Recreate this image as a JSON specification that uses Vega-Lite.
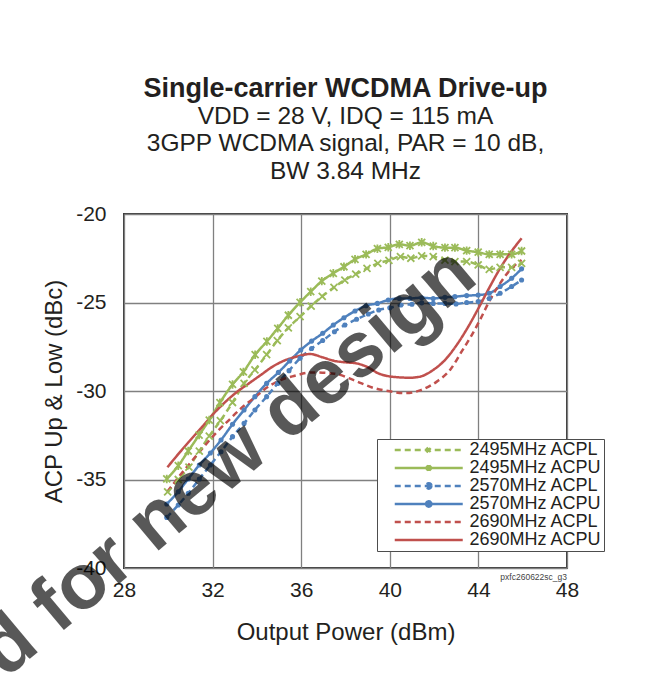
{
  "$schema": "https://vega.github.io/schema/vega-lite/v6.json",
  "width": 443,
  "height": 354,
  "autosize": {"type": "none"},
  "padding": {"left": 124, "top": 214, "right": 97, "bottom": 107},
  "background": "white",
  "title": {
    "text": "Single-carrier WCDMA Drive-up",
    "subtitle": ["VDD = 28 V, IDQ = 115 mA", "3GPP WCDMA signal, PAR = 10 dB,", "BW 3.84 MHz"],
    "anchor": "middle",
    "offset": 19,
    "font": "Liberation Sans",
    "fontSize": 27,
    "fontWeight": "bold",
    "color": "#231F20",
    "subtitleFont": "Liberation Sans",
    "subtitleFontSize": 24.5,
    "subtitleColor": "#231F20",
    "subtitleLineHeight": 27.5,
    "subtitlePadding": 2
  },
  "datasets": {
    "acp": [
      {"s": "2495MHz ACPL", "p": 29.97, "v": -35.7},
      {"s": "2495MHz ACPL", "p": 30.45, "v": -35.0},
      {"s": "2495MHz ACPL", "p": 30.93, "v": -34.3},
      {"s": "2495MHz ACPL", "p": 31.4, "v": -33.4},
      {"s": "2495MHz ACPL", "p": 31.85, "v": -32.55},
      {"s": "2495MHz ACPL", "p": 32.35, "v": -31.68},
      {"s": "2495MHz ACPL", "p": 32.9, "v": -30.65},
      {"s": "2495MHz ACPL", "p": 33.42, "v": -29.57},
      {"s": "2495MHz ACPL", "p": 33.91, "v": -28.81},
      {"s": "2495MHz ACPL", "p": 34.44, "v": -27.95},
      {"s": "2495MHz ACPL", "p": 34.92, "v": -27.15},
      {"s": "2495MHz ACPL", "p": 35.42, "v": -26.43},
      {"s": "2495MHz ACPL", "p": 35.95, "v": -25.8},
      {"s": "2495MHz ACPL", "p": 36.45, "v": -25.2},
      {"s": "2495MHz ACPL", "p": 36.95, "v": -24.65},
      {"s": "2495MHz ACPL", "p": 37.48, "v": -24.15},
      {"s": "2495MHz ACPL", "p": 37.97, "v": -23.73},
      {"s": "2495MHz ACPL", "p": 38.46, "v": -23.4},
      {"s": "2495MHz ACPL", "p": 38.97, "v": -23.07},
      {"s": "2495MHz ACPL", "p": 39.46, "v": -22.79},
      {"s": "2495MHz ACPL", "p": 39.96, "v": -22.62},
      {"s": "2495MHz ACPL", "p": 40.48, "v": -22.41},
      {"s": "2495MHz ACPL", "p": 40.95, "v": -22.5},
      {"s": "2495MHz ACPL", "p": 41.44, "v": -22.37},
      {"s": "2495MHz ACPL", "p": 41.96, "v": -22.41},
      {"s": "2495MHz ACPL", "p": 42.49, "v": -22.6},
      {"s": "2495MHz ACPL", "p": 42.94, "v": -22.69},
      {"s": "2495MHz ACPL", "p": 43.47, "v": -22.69},
      {"s": "2495MHz ACPL", "p": 43.99, "v": -22.88},
      {"s": "2495MHz ACPL", "p": 44.49, "v": -23.13},
      {"s": "2495MHz ACPL", "p": 44.98, "v": -23.01},
      {"s": "2495MHz ACPL", "p": 45.5, "v": -23.01},
      {"s": "2495MHz ACPL", "p": 45.95, "v": -22.79},

      {"s": "2495MHz ACPU", "p": 29.93, "v": -34.97},
      {"s": "2495MHz ACPU", "p": 30.45, "v": -34.22},
      {"s": "2495MHz ACPU", "p": 30.9, "v": -33.39},
      {"s": "2495MHz ACPU", "p": 31.39, "v": -32.49},
      {"s": "2495MHz ACPU", "p": 31.85, "v": -31.64},
      {"s": "2495MHz ACPU", "p": 32.33, "v": -30.66},
      {"s": "2495MHz ACPU", "p": 32.9, "v": -29.63},
      {"s": "2495MHz ACPU", "p": 33.39, "v": -28.92},
      {"s": "2495MHz ACPU", "p": 33.92, "v": -27.95},
      {"s": "2495MHz ACPU", "p": 34.45, "v": -27.2},
      {"s": "2495MHz ACPU", "p": 34.94, "v": -26.46},
      {"s": "2495MHz ACPU", "p": 35.42, "v": -25.72},
      {"s": "2495MHz ACPU", "p": 35.95, "v": -24.99},
      {"s": "2495MHz ACPU", "p": 36.43, "v": -24.39},
      {"s": "2495MHz ACPU", "p": 36.93, "v": -23.79},
      {"s": "2495MHz ACPU", "p": 37.45, "v": -23.35},
      {"s": "2495MHz ACPU", "p": 37.93, "v": -22.98},
      {"s": "2495MHz ACPU", "p": 38.43, "v": -22.56},
      {"s": "2495MHz ACPU", "p": 38.93, "v": -22.28},
      {"s": "2495MHz ACPU", "p": 39.44, "v": -21.96},
      {"s": "2495MHz ACPU", "p": 39.93, "v": -21.88},
      {"s": "2495MHz ACPU", "p": 40.43, "v": -21.71},
      {"s": "2495MHz ACPU", "p": 40.91, "v": -21.79},
      {"s": "2495MHz ACPU", "p": 41.44, "v": -21.6},
      {"s": "2495MHz ACPU", "p": 41.96, "v": -21.81},
      {"s": "2495MHz ACPU", "p": 42.49, "v": -21.9},
      {"s": "2495MHz ACPU", "p": 42.94, "v": -21.9},
      {"s": "2495MHz ACPU", "p": 43.47, "v": -22.07},
      {"s": "2495MHz ACPU", "p": 43.99, "v": -22.16},
      {"s": "2495MHz ACPU", "p": 44.49, "v": -22.28},
      {"s": "2495MHz ACPU", "p": 44.98, "v": -22.28},
      {"s": "2495MHz ACPU", "p": 45.5, "v": -22.28},
      {"s": "2495MHz ACPU", "p": 45.95, "v": -22.09},

      {"s": "2570MHz ACPL", "p": 29.93, "v": -37.14},
      {"s": "2570MHz ACPL", "p": 30.45, "v": -36.44},
      {"s": "2570MHz ACPL", "p": 30.9, "v": -35.78},
      {"s": "2570MHz ACPL", "p": 31.4, "v": -34.97},
      {"s": "2570MHz ACPL", "p": 31.9, "v": -34.18},
      {"s": "2570MHz ACPL", "p": 32.38, "v": -33.43},
      {"s": "2570MHz ACPL", "p": 32.9, "v": -32.58},
      {"s": "2570MHz ACPL", "p": 33.42, "v": -31.83},
      {"s": "2570MHz ACPL", "p": 33.91, "v": -31.07},
      {"s": "2570MHz ACPL", "p": 34.44, "v": -30.32},
      {"s": "2570MHz ACPL", "p": 34.94, "v": -29.57},
      {"s": "2570MHz ACPL", "p": 35.45, "v": -28.85},
      {"s": "2570MHz ACPL", "p": 35.95, "v": -28.15},
      {"s": "2570MHz ACPL", "p": 36.47, "v": -27.6},
      {"s": "2570MHz ACPL", "p": 36.97, "v": -27.15},
      {"s": "2570MHz ACPL", "p": 37.5, "v": -26.65},
      {"s": "2570MHz ACPL", "p": 37.97, "v": -26.27},
      {"s": "2570MHz ACPL", "p": 38.5, "v": -25.95},
      {"s": "2570MHz ACPL", "p": 39.03, "v": -25.65},
      {"s": "2570MHz ACPL", "p": 39.5, "v": -25.42},
      {"s": "2570MHz ACPL", "p": 40.0, "v": -25.3},
      {"s": "2570MHz ACPL", "p": 40.5, "v": -25.14},
      {"s": "2570MHz ACPL", "p": 41.0, "v": -25.1},
      {"s": "2570MHz ACPL", "p": 41.44, "v": -25.02},
      {"s": "2570MHz ACPL", "p": 41.96, "v": -25.05},
      {"s": "2570MHz ACPL", "p": 42.49, "v": -25.05},
      {"s": "2570MHz ACPL", "p": 42.99, "v": -25.08},
      {"s": "2570MHz ACPL", "p": 43.47, "v": -25.0},
      {"s": "2570MHz ACPL", "p": 43.99, "v": -24.95},
      {"s": "2570MHz ACPL", "p": 44.49, "v": -24.77},
      {"s": "2570MHz ACPL", "p": 44.98, "v": -24.48},
      {"s": "2570MHz ACPL", "p": 45.5, "v": -24.1},
      {"s": "2570MHz ACPL", "p": 45.95, "v": -23.73},

      {"s": "2570MHz ACPU", "p": 29.93, "v": -36.38},
      {"s": "2570MHz ACPU", "p": 30.45, "v": -35.69},
      {"s": "2570MHz ACPU", "p": 30.9, "v": -34.97},
      {"s": "2570MHz ACPU", "p": 31.4, "v": -34.18},
      {"s": "2570MHz ACPU", "p": 31.9, "v": -33.5},
      {"s": "2570MHz ACPU", "p": 32.38, "v": -32.77},
      {"s": "2570MHz ACPU", "p": 32.9, "v": -31.88},
      {"s": "2570MHz ACPU", "p": 33.42, "v": -31.07},
      {"s": "2570MHz ACPU", "p": 33.91, "v": -30.32},
      {"s": "2570MHz ACPU", "p": 34.44, "v": -29.57},
      {"s": "2570MHz ACPU", "p": 34.97, "v": -28.95},
      {"s": "2570MHz ACPU", "p": 35.48, "v": -28.3},
      {"s": "2570MHz ACPU", "p": 35.98, "v": -27.68},
      {"s": "2570MHz ACPU", "p": 36.47, "v": -27.18},
      {"s": "2570MHz ACPU", "p": 36.97, "v": -26.74},
      {"s": "2570MHz ACPU", "p": 37.45, "v": -26.27},
      {"s": "2570MHz ACPU", "p": 37.93, "v": -25.86},
      {"s": "2570MHz ACPU", "p": 38.43, "v": -25.48},
      {"s": "2570MHz ACPU", "p": 38.93, "v": -25.18},
      {"s": "2570MHz ACPU", "p": 39.44, "v": -25.05},
      {"s": "2570MHz ACPU", "p": 39.93, "v": -24.86},
      {"s": "2570MHz ACPU", "p": 40.43, "v": -24.77},
      {"s": "2570MHz ACPU", "p": 40.91, "v": -24.77},
      {"s": "2570MHz ACPU", "p": 41.44, "v": -24.73},
      {"s": "2570MHz ACPU", "p": 41.96, "v": -24.77},
      {"s": "2570MHz ACPU", "p": 42.49, "v": -24.71},
      {"s": "2570MHz ACPU", "p": 42.94, "v": -24.67},
      {"s": "2570MHz ACPU", "p": 43.47, "v": -24.61},
      {"s": "2570MHz ACPU", "p": 43.99, "v": -24.58},
      {"s": "2570MHz ACPU", "p": 44.49, "v": -24.48},
      {"s": "2570MHz ACPU", "p": 44.98, "v": -24.1},
      {"s": "2570MHz ACPU", "p": 45.5, "v": -23.63},
      {"s": "2570MHz ACPU", "p": 45.95, "v": -23.1},

      {"s": "2690MHz ACPL", "p": 29.96, "v": -35.69},
      {"s": "2690MHz ACPL", "p": 30.48, "v": -34.84},
      {"s": "2690MHz ACPL", "p": 31.0, "v": -34.05},
      {"s": "2690MHz ACPL", "p": 31.61, "v": -33.14},
      {"s": "2690MHz ACPL", "p": 32.14, "v": -32.39},
      {"s": "2690MHz ACPL", "p": 32.74, "v": -31.64},
      {"s": "2690MHz ACPL", "p": 33.34, "v": -30.92},
      {"s": "2690MHz ACPL", "p": 33.95, "v": -30.32},
      {"s": "2690MHz ACPL", "p": 34.47, "v": -29.79},
      {"s": "2690MHz ACPL", "p": 35.07, "v": -29.38},
      {"s": "2690MHz ACPL", "p": 35.67, "v": -29.15},
      {"s": "2690MHz ACPL", "p": 36.5, "v": -28.95},
      {"s": "2690MHz ACPL", "p": 37.5, "v": -29.02},
      {"s": "2690MHz ACPL", "p": 38.4, "v": -29.4},
      {"s": "2690MHz ACPL", "p": 39.2, "v": -29.8},
      {"s": "2690MHz ACPL", "p": 40.0, "v": -30.02},
      {"s": "2690MHz ACPL", "p": 40.7, "v": -30.12},
      {"s": "2690MHz ACPL", "p": 41.4, "v": -29.95},
      {"s": "2690MHz ACPL", "p": 42.12, "v": -29.47},
      {"s": "2690MHz ACPL", "p": 42.72, "v": -28.81},
      {"s": "2690MHz ACPL", "p": 43.24, "v": -27.78},
      {"s": "2690MHz ACPL", "p": 43.7, "v": -26.84},
      {"s": "2690MHz ACPL", "p": 44.07, "v": -25.99},
      {"s": "2690MHz ACPL", "p": 44.52, "v": -24.86},
      {"s": "2690MHz ACPL", "p": 44.98, "v": -23.92},
      {"s": "2690MHz ACPL", "p": 45.43, "v": -23.16},
      {"s": "2690MHz ACPL", "p": 45.95, "v": -22.6},

      {"s": "2690MHz ACPU", "p": 29.96, "v": -34.31},
      {"s": "2690MHz ACPU", "p": 30.48, "v": -33.52},
      {"s": "2690MHz ACPU", "p": 31.0, "v": -32.77},
      {"s": "2690MHz ACPU", "p": 31.53, "v": -32.02},
      {"s": "2690MHz ACPU", "p": 32.06, "v": -31.26},
      {"s": "2690MHz ACPU", "p": 32.59, "v": -30.6},
      {"s": "2690MHz ACPU", "p": 33.11, "v": -30.04},
      {"s": "2690MHz ACPU", "p": 33.64, "v": -29.57},
      {"s": "2690MHz ACPU", "p": 34.17, "v": -29.1},
      {"s": "2690MHz ACPU", "p": 34.7, "v": -28.63},
      {"s": "2690MHz ACPU", "p": 35.22, "v": -28.29},
      {"s": "2690MHz ACPU", "p": 35.82, "v": -28.05},
      {"s": "2690MHz ACPU", "p": 36.4, "v": -27.91},
      {"s": "2690MHz ACPU", "p": 36.97, "v": -28.1},
      {"s": "2690MHz ACPU", "p": 37.5, "v": -28.3},
      {"s": "2690MHz ACPU", "p": 38.0, "v": -28.38},
      {"s": "2690MHz ACPU", "p": 38.5, "v": -28.44},
      {"s": "2690MHz ACPU", "p": 38.96, "v": -28.63},
      {"s": "2690MHz ACPU", "p": 39.48, "v": -29.0},
      {"s": "2690MHz ACPU", "p": 40.08, "v": -29.19},
      {"s": "2690MHz ACPU", "p": 40.91, "v": -29.25},
      {"s": "2690MHz ACPU", "p": 41.36, "v": -29.19},
      {"s": "2690MHz ACPU", "p": 41.96, "v": -28.81},
      {"s": "2690MHz ACPU", "p": 42.49, "v": -28.25},
      {"s": "2690MHz ACPU", "p": 43.02, "v": -27.4},
      {"s": "2690MHz ACPU", "p": 43.54, "v": -26.37},
      {"s": "2690MHz ACPU", "p": 44.0, "v": -25.33},
      {"s": "2690MHz ACPU", "p": 44.52, "v": -24.1},
      {"s": "2690MHz ACPU", "p": 44.98, "v": -23.07},
      {"s": "2690MHz ACPU", "p": 45.43, "v": -22.22},
      {"s": "2690MHz ACPU", "p": 45.95, "v": -21.37}
    ],
    "watermark": [
      {"label": "Not recommended for new design", "p": 44.07, "v": -23.79}
    ],
    "figid": [
      {"label": "pxfc260622sc_g3", "p": 48, "v": -40}
    ]
  },
  "data": {"name": "acp"},
  "encoding": {
    "x": {
      "field": "p", "type": "quantitative",
      "scale": {"domain": [28, 48], "nice": false, "zero": false},
      "axis": {"values": [28, 32, 36, 40, 44, 48], "title": "Output Power (dBm)", "titlePadding": 20, "labelPadding": 11}
    },
    "y": {
      "field": "v", "type": "quantitative",
      "scale": {"domain": [-40, -20], "nice": false, "zero": false},
      "axis": {"values": [-40, -35, -30, -25, -20], "labelExpr": "'' + datum.value", "title": "ACP Up & Low (dBc)", "titlePadding": 9, "labelPadding": 18}
    }
  },
  "layer": [
    {
      "mark": {"type": "line", "interpolate": "monotone", "strokeWidth": 2.5, "clip": false},
      "encoding": {
        "color": {
          "field": "s", "type": "nominal",
          "scale": {
            "domain": ["2495MHz ACPL", "2495MHz ACPU", "2570MHz ACPL", "2570MHz ACPU", "2690MHz ACPL", "2690MHz ACPU"],
            "range": ["#9BBB59", "#9BBB59", "#4F81BD", "#4F81BD", "#C0504D", "#C0504D"]
          },
          "legend": {
            "title": null,
            "orient": "none",
            "legendX": 253,
            "legendY": 225,
            "encode": {
              "symbols": {
                "update": {
                  "shape": [
                    {"test": "datum.value === '2495MHz ACPL'", "value": "M0.87,0H9.65M4.96,-0.3L5.56,0.3M4.96,0.3L5.56,-0.3"},
                    {"test": "datum.value === '2495MHz ACPU'", "value": "M0.87,0H9.65M4.96,-0.3L5.56,0.3M4.96,0.3L5.56,-0.3M5.26,-0.38L5.26,0.38"},
                    {"test": "indexof(datum.value, '2570') >= 0", "value": "M0.87,0H9.65M5.6,0A0.34,0.34 0 1,1 4.92,0A0.34,0.34 0 1,1 5.6,0Z"},
                    {"value": "M0.87,0H9.65"}
                  ],
                  "fill": [
                    {"test": "indexof(datum.value, '2570') >= 0", "value": "#4F81BD"},
                    {"value": "transparent"}
                  ]
                }
              }
            }
          }
        },
        "strokeDash": {
          "field": "s", "type": "nominal",
          "scale": {
            "domain": ["2495MHz ACPL", "2495MHz ACPU", "2570MHz ACPL", "2570MHz ACPU", "2690MHz ACPL", "2690MHz ACPU"],
            "range": [[6, 4], [1, 0], [6, 4], [1, 0], [6, 4], [1, 0]]
          },
          "legend": {"title": null, "orient": "none", "legendX": 253, "legendY": 225}
        }
      }
    },
    {
      "transform": [{"filter": "indexof(datum.s, '2495') >= 0"}],
      "mark": {"type": "point", "filled": false, "color": "#9BBB59", "strokeWidth": 1.8, "size": 49, "opacity": 1},
      "encoding": {
        "shape": {
          "field": "s", "type": "nominal",
          "scale": {
            "domain": ["2495MHz ACPL", "2495MHz ACPU"],
            "range": ["M-1,-1L1,1M-1,1L1,-1", "M-1,-1L1,1M-1,1L1,-1M0,-1.2L0,1.2"]
          },
          "legend": null
        }
      }
    },
    {
      "transform": [{"filter": "indexof(datum.s, '2570') >= 0"}],
      "mark": {"type": "point", "filled": true, "shape": "circle", "color": "#4F81BD", "size": 26, "opacity": 1}
    },
    {
      "data": {"name": "watermark"},
      "mark": {
        "type": "text",
        "font": "Liberation Sans", "fontWeight": "bold", "fontSize": 78,
        "angle": 320, "align": "right", "baseline": "alphabetic",
        "color": "#000000", "opacity": 0.65
      },
      "encoding": {
        "text": {"field": "label", "type": "nominal"}
      }
    },
    {
      "data": {"name": "figid"},
      "mark": {
        "type": "text",
        "font": "Liberation Sans", "fontSize": 8.5,
        "align": "right", "baseline": "top", "dy": 5, "color": "#444444"
      },
      "encoding": {
        "text": {"field": "label", "type": "nominal"}
      }
    }
  ],
  "config": {
    "font": "Liberation Sans",
    "view": {"stroke": "#3a3a3a", "strokeWidth": 2},
    "axis": {
      "domain": false,
      "ticks": false,
      "grid": true,
      "gridColor": "#808080",
      "gridWidth": 1.3,
      "labelFont": "Liberation Sans",
      "labelFontSize": 21,
      "labelColor": "#231F20",
      "titleFont": "Liberation Sans",
      "titleFontSize": 24,
      "titleFontWeight": "normal",
      "titleColor": "#231F20"
    },
    "axisX": {"labelFlush": false},
    "legend": {
      "labelFont": "Liberation Sans",
      "labelFontSize": 18,
      "labelColor": "#231F20",
      "labelOffset": 72.5,
      "symbolSize": 240,
      "symbolStrokeWidth": 2.5,
      "rowPadding": 0,
      "padding": 2,
      "fillColor": "#FFFFFF",
      "strokeColor": "#4d4d4d",
      "labelLimit": 300
    }
  }
}
